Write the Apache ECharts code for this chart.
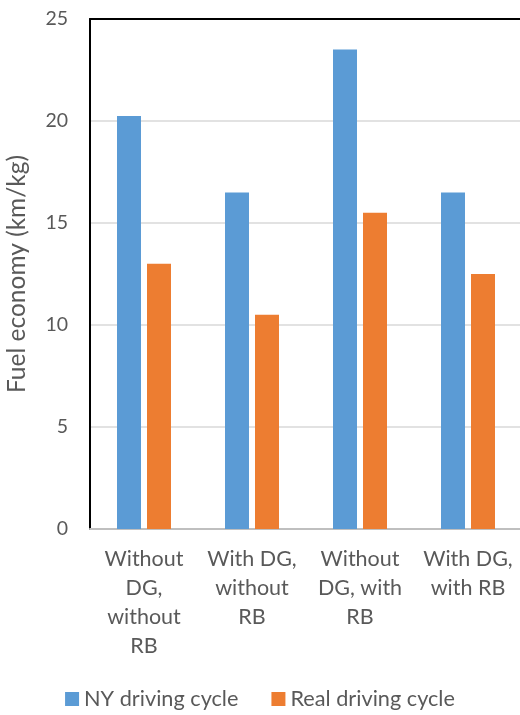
<!DOCTYPE html>
<html><head><meta charset="utf-8">
<script src="https://cdn.jsdelivr.net/npm/echarts@6/dist/echarts.min.js"></script>
<style>html,body{margin:0;padding:0;background:#fff}#c{width:520px;height:715px}</style>
</head><body><div id="c"></div>
<script>
const categories = ["Without\nDG,\nwithout\nRB", "With DG,\nwithout\nRB", "Without\nDG, with\nRB", "With DG,\nwith RB"];
const nyCycle = [20.25, 16.5, 23.5, 16.5];
const realCycle = [13.0, 10.5, 15.5, 12.5];
const seriesNames = ["NY driving cycle", "Real driving cycle"];
const yTicks = {min: 0, max: 25, interval: 5};
const axisName = "Fuel economy (km/kg)";

const font = "Lato, 'Open Sans', sans-serif";
const chart = echarts.init(document.getElementById('c'), null, {renderer: 'canvas'});
chart.setOption({
  animation: false,
  textStyle: {fontFamily: font},
  grid: {left: 90, top: 19, bottom: 186, right: -2, containLabel: false, outerBoundsMode: 'none'},
  legend: {
    bottom: 0, left: 'center', itemWidth: 14, itemHeight: 14, itemGap: 33,
    icon: 'rect',
    textStyle: {fontSize: 21.7, color: '#595959', fontFamily: font},
    data: seriesNames
  },
  xAxis: [{
    type: 'category', data: categories,
    axisLine: {lineStyle: {color: '#bfbfbf', width: 2}},
    axisTick: {show: false},
    axisLabel: {color: '#595959', fontSize: 21.5, lineHeight: 29, margin: 16, interval: 0, fontFamily: font}
  }, {
    type: 'category', data: categories, position: 'top',
    axisLine: {lineStyle: {color: '#000', width: 2}},
    axisTick: {show: false}, axisLabel: {show: false}
  }],
  yAxis: {
    type: 'value', min: yTicks.min, max: yTicks.max, interval: yTicks.interval,
    name: axisName, nameLocation: 'middle', nameGap: 60, nameRotate: 90,
    nameTextStyle: {fontSize: 24.5, color: '#595959', fontFamily: font},
    axisLine: {show: true, lineStyle: {color: '#000', width: 2}},
    axisTick: {show: false},
    axisLabel: {color: '#595959', fontSize: 19.5, margin: 22, fontFamily: font},
    splitLine: {lineStyle: {color: '#d9d9d9', width: 1.5}}
  },
  series: [
    {name: seriesNames[0], type: 'bar', data: nyCycle, barWidth: 24, barGap: '25%',
     itemStyle: {color: '#5b9bd5'}},
    {name: seriesNames[1], type: 'bar', data: realCycle, barWidth: 24, barGap: '25%',
     itemStyle: {color: '#ed7d31'}}
  ]
});
</script></body></html>
